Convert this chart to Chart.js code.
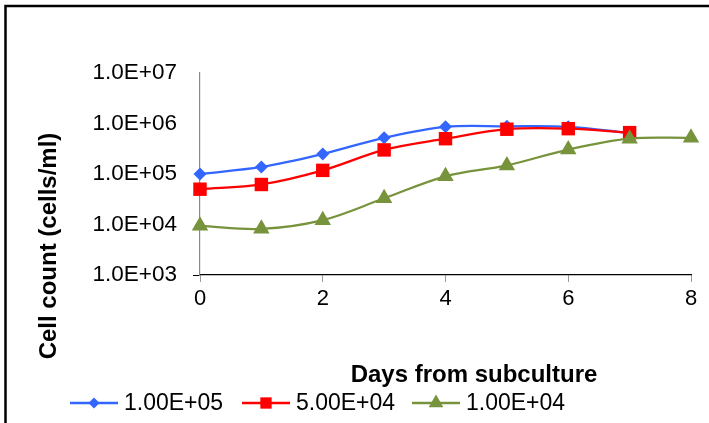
<!DOCTYPE html>
<html>
<head>
<meta charset="utf-8">
<script src="https://cdn.jsdelivr.net/npm/chart.js@4/dist/chart.umd.min.js"></script>
<style>
  body { margin: 0; background: #fff; }
  #wrap { width: 709px; height: 423px; }
</style>
</head>
<body>
<div id="wrap"><canvas id="chart" width="709" height="423"></canvas></div>
<script>
// Days from subculture
const days = [0, 1, 2, 3, 4, 5, 6, 7, 8];
// Cell counts (cells/ml) per initial seeding density
const seed1e5 = [1.0e5, 1.38e5, 2.5e5, 5.2e5, 8.6e5, 8.8e5, 8.6e5, 6.5e5];
const seed5e4 = [5.0e4, 6.2e4, 1.18e5, 3.0e5, 5.0e5, 7.7e5, 7.9e5, 6.6e5];
const seed1e4 = [9.4e3, 8.2e3, 1.22e4, 3.3e4, 9.0e4, 1.48e5, 3.05e5, 5.0e5, 5.2e5];

const seriesNames = ['1.00E+05', '5.00E+04', '1.00E+04'];
const yTicks = [1e3, 1e4, 1e5, 1e6, 1e7];
const xTicks = [0, 2, 4, 6, 8];

const COLORS = ['#3366ff', '#ff0000', '#77933c'];
const FONT = "'Liberation Sans', Arial, sans-serif";

Chart.defaults.font.family = FONT;
Chart.defaults.color = '#000';

const toPoints = (vals) => vals.map((v, i) => ({ x: days[i], y: v }));

const markers = [
  { style: 'rectRot', radius: 6.5, legendRadius: 5.5 },
  { style: 'rect', radius: 9.5, legendRadius: 8 },
  { style: 'triangle', radius: 9.5, legendRadius: 8.5 },
];

// later series sit on top, as in the original
const datasets = [seed1e5, seed5e4, seed1e4].map((vals, i) => ({
  label: seriesNames[i],
  data: toPoints(vals),
  order: 3 - i,
  borderColor: COLORS[i],
  backgroundColor: COLORS[i],
  borderWidth: 2.25,
  pointStyle: markers[i].style,
  pointRadius: markers[i].radius,
  pointBorderWidth: 0,
  tension: 0.35,
  clip: false,
}));

/** Axis titles, legend and frame drawn straight on the canvas. */
const decorPlugin = {
  id: 'decor',
  afterDraw(chart) {
    const ctx = chart.ctx;
    ctx.save();
    // outer frame (right and bottom edges fall outside the picture)
    ctx.strokeStyle = '#000';
    ctx.lineWidth = 2.5;
    ctx.strokeRect(5.5, 6, 740, 460);

    // axis titles
    ctx.fillStyle = '#000';
    ctx.font = 'bold 24px ' + FONT;
    ctx.textAlign = 'center';
    ctx.textBaseline = 'middle';
    ctx.fillText('Days from subculture', 474, 375);
    ctx.save();
    ctx.translate(49, 246);
    ctx.rotate(-Math.PI / 2);
    ctx.fillText('Cell count (cells/ml)', 0, 0);
    ctx.restore();

    // legend
    const lineStarts = [70, 242, 412];
    const ly = 403;
    ctx.font = '23px ' + FONT;
    ctx.textAlign = 'left';
    lineStarts.forEach((x0, i) => {
      ctx.strokeStyle = COLORS[i];
      ctx.fillStyle = COLORS[i];
      ctx.lineWidth = 2.5;
      ctx.beginPath();
      ctx.moveTo(x0, ly);
      ctx.lineTo(x0 + 48, ly);
      ctx.stroke();
      Chart.helpers.drawPoint(ctx, {
        pointStyle: markers[i].style,
        radius: markers[i].legendRadius,
        rotation: 0,
        borderWidth: 0,
      }, x0 + 24, ly);
      ctx.fillStyle = '#000';
      ctx.fillText(seriesNames[i], x0 + 54, ly + 1);
    });
    ctx.restore();
  },
};

new Chart(document.getElementById('chart'), {
  type: 'line',
  data: { datasets },
  plugins: [decorPlugin],
  options: {
    responsive: false,
    animation: false,
    layout: { padding: { top: 73, right: 18, left: 0, bottom: 0 } },
    plugins: {
      legend: { display: false },
      title: { display: false },
      tooltip: { enabled: false },
    },
    scales: {
      x: {
        type: 'linear',
        min: 0,
        max: 8,
        afterFit: (s) => { s.height = 148; },
        afterBuildTicks: (s) => { s.ticks = xTicks.map((v) => ({ value: v })); },
        ticks: { font: { size: 22 }, padding: 4, color: '#000', maxRotation: 0 },
        grid: { drawOnChartArea: false, drawTicks: true, tickLength: 7, color: '#999' },
        border: { color: '#000', width: 1.2 },
      },
      y: {
        type: 'logarithmic',
        min: 1e3,
        max: 1e7,
        afterFit: (s) => { s.width = 200; },
        afterBuildTicks: (s) => { s.ticks = yTicks.map((v) => ({ value: v })); },
        ticks: {
          font: { size: 22.5 },
          padding: 16,
          color: '#000',
          callback: (v) => {
            const e = Math.round(Math.log10(v));
            return '1.0E+' + String(e).padStart(2, '0');
          },
        },
        grid: {
          drawOnChartArea: false,
          drawTicks: true,
          tickLength: 7,
          tickColor: (c) => (c.tick && c.tick.value === 1e3 ? '#000' : 'rgba(0,0,0,0)'),
        },
        border: { color: '#8a8a8a', width: 1.2 },
      },
    },
  },
});
</script>
</body>
</html>
